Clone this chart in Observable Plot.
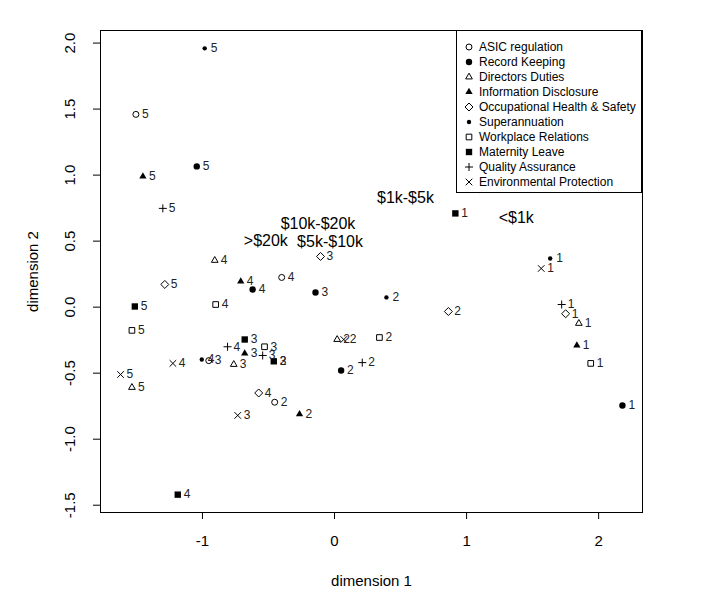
<!DOCTYPE html>
<html><head><meta charset="utf-8">
<script src="https://cdn.jsdelivr.net/npm/d3@7"></script>
<script src="https://cdn.jsdelivr.net/npm/@observablehq/plot@0.6"></script>
<style>
body{margin:0;background:#fff;font-family:"Liberation Sans",Arial,sans-serif;}
#wrap{position:relative;width:710px;height:614px;}
#legend{position:absolute;left:456px;top:30px;width:186px;height:163px;border:1px solid #000;box-sizing:border-box;padding-top:8px;background:#fff;}
.row{display:flex;align-items:center;height:15px;font-size:12px;color:#000;white-space:nowrap;}
.row svg{margin-left:6px;margin-right:4px;flex:none;}
</style></head><body><div id="wrap"></div>
<script>
// ---- data ----
const topics = ["ASIC regulation","Record Keeping","Directors Duties","Information Disclosure","Occupational Health & Safety","Superannuation","Workplace Relations","Maternity Leave","Quality Assurance","Environmental Protection"];
const categories = ["1","2","3","4","5"];
// coordinates per category, in topic order
const dim1Cat1 = [1.096, 2.18, 1.85, 1.835, 1.75, 1.633, 1.94, 0.915, 1.72, 1.565];
const dim2Cat1 = [0.89, -0.745, -0.123, -0.29, -0.05, 0.368, -0.426, 0.71, 0.02, 0.293];
const dim1Cat2 = [-0.453, 0.05, 0.02, -0.265, 0.862, 0.393, 0.34, -0.46, 0.21, 0.07];
const dim2Cat2 = [-0.72, -0.48, -0.245, -0.81, -0.033, 0.074, -0.23, -0.41, -0.42, -0.245];
const dim1Cat3 = [-0.952, -0.144, -0.763, -0.68, -0.106, -0.461, -0.53, -0.68, -0.544, -0.733];
const dim2Cat3 = [-0.405, 0.111, -0.434, -0.35, 0.384, -0.41, -0.30, -0.245, -0.366, -0.82];
const dim1Cat4 = [-0.40, -0.62, -0.907, -0.71, -0.574, -1.005, -0.90, -1.187, -0.81, -1.224];
const dim2Cat4 = [0.225, 0.134, 0.354, 0.195, -0.65, -0.396, 0.02, -1.42, -0.30, -0.426];
const dim1Cat5 = [-1.504, -1.043, -1.534, -1.451, -1.285, -0.983, -1.534, -1.512, -1.30, -1.62];
const dim2Cat5 = [1.46, 1.066, -0.608, 0.99, 0.172, 1.96, -0.176, 0.005, 0.748, -0.51];

const groupLabels = ["<$1k","$1k-$5k","$5k-$10k","$10k-$20k",">$20k"];
const groupDim1 = [1.376, 0.537, -0.034, -0.125, -0.52];
const groupDim2 = [0.675, 0.824, 0.498, 0.63, 0.505];

const xTicks = [-1, 0, 1, 2];
const yTicks = [-1.5, -1.0, -0.5, 0.0, 0.5, 1.0, 1.5, 2.0];

// ---- styles (R pch equivalents) ----
const topicStyle = [
  {symbol:"circle", fill:"none", stroke:"black", r:3},      // pch 1
  {symbol:"circle", fill:"black", stroke:"none", r:3.2},    // pch 16
  {symbol:"triangle2", fill:"none", stroke:"black", r:3.2}, // pch 2
  {symbol:"triangle", fill:"black", stroke:"none", r:2.7},  // pch 17
  {symbol:"diamond2", fill:"none", stroke:"black", r:3.6},  // pch 5
  {symbol:"circle", fill:"black", stroke:"none", r:2.2},    // pch 20
  {symbol:"square2", fill:"none", stroke:"black", r:3.6},   // pch 0
  {symbol:"square", fill:"black", stroke:"none", r:3.6},    // pch 15
  {symbol:"plus", fill:"none", stroke:"black", r:2.7},      // pch 3
  {symbol:"times", fill:"none", stroke:"black", r:3.1}      // pch 4
];

const dimX = [dim1Cat1, dim1Cat2, dim1Cat3, dim1Cat4, dim1Cat5];
const dimY = [dim2Cat1, dim2Cat2, dim2Cat3, dim2Cat4, dim2Cat5];
const points = [];
categories.forEach((c, ci) => topics.forEach((t, ti) => {
  points.push({topic: t, ti, cat: c, x: dimX[ci][ti], y: dimY[ci][ti]});
}));
const groups = groupLabels.map((g, i) => ({label: g, x: groupDim1[i], y: groupDim2[i]}));

const allX = points.map(d => d.x), allY = points.map(d => d.y);
const [x0, x1] = d3.extent(allX), [y0, y1] = d3.extent(allY);
const px = (x1 - x0) * 0.04, py = (y1 - y0) * 0.04;

const dotMarks = topics.map((t, ti) => {
  const s = topicStyle[ti];
  return Plot.dot(points.filter(d => d.ti === ti), {x: "x", y: "y", symbol: () => s.symbol, fill: s.fill, stroke: s.stroke, r: s.r, strokeWidth: 1});
});

const chart = Plot.plot({
  width: 710, height: 614,
  marginLeft: 100, marginRight: 68, marginTop: 30, marginBottom: 102,
  style: {fontFamily: '"Liberation Sans", Arial, sans-serif', background: "#fff", color: "#000"},
  x: {domain: [x0 - px, x1 + px]},
  y: {domain: [y0 - py, y1 + py]},
  symbol: {type: "identity"},
  marks: [
    Plot.frame({stroke: "black"}),
    Plot.axisX({ticks: xTicks, tickSize: 7, tickPadding: 16, fontSize: 15, tickFormat: d => String(d),
      label: "dimension 1", labelAnchor: "center", labelOffset: 73, labelArrow: "none"}),
    Plot.axisY({ticks: yTicks, tickSize: 7, tickPadding: 19, tickRotate: -90, fontSize: 15, tickFormat: d => d.toFixed(1),
      label: "dimension 2", labelAnchor: "center", labelOffset: 73, labelArrow: "none"}),
    ...dotMarks,
    Plot.text(points, {x: "x", y: "y", text: "cat", dx: 6, textAnchor: "start", fontSize: 12, fill: "#222"}),
    Plot.text(groups, {x: "x", y: "y", text: "label", fontSize: 16, fill: "black"})
  ]
});
const wrap = document.getElementById("wrap");
wrap.appendChild(chart);

// legend
const legend = document.createElement("div");
legend.id = "legend";
topics.forEach((t, ti) => {
  const s = topicStyle[ti];
  const row = document.createElement("div");
  row.className = "row";
  const sym = {circle: d3.symbolCircle, triangle: d3.symbolTriangle, triangle2: d3.symbolTriangle2, diamond2: d3.symbolDiamond2,
    square: d3.symbolSquare, square2: d3.symbolSquare2, plus: d3.symbolPlus, times: d3.symbolTimes}[s.symbol];
  const path = d3.symbol(sym, Math.PI * s.r * s.r)();
  row.innerHTML = `<svg width="12" height="12" viewBox="-6 -6 12 12"><path d="${path}" fill="${s.fill}" stroke="${s.stroke}" stroke-width="1"/></svg><span>${t.replace("&","&amp;")}</span>`;
  legend.appendChild(row);
});
wrap.appendChild(legend);
</script>
</body></html>
